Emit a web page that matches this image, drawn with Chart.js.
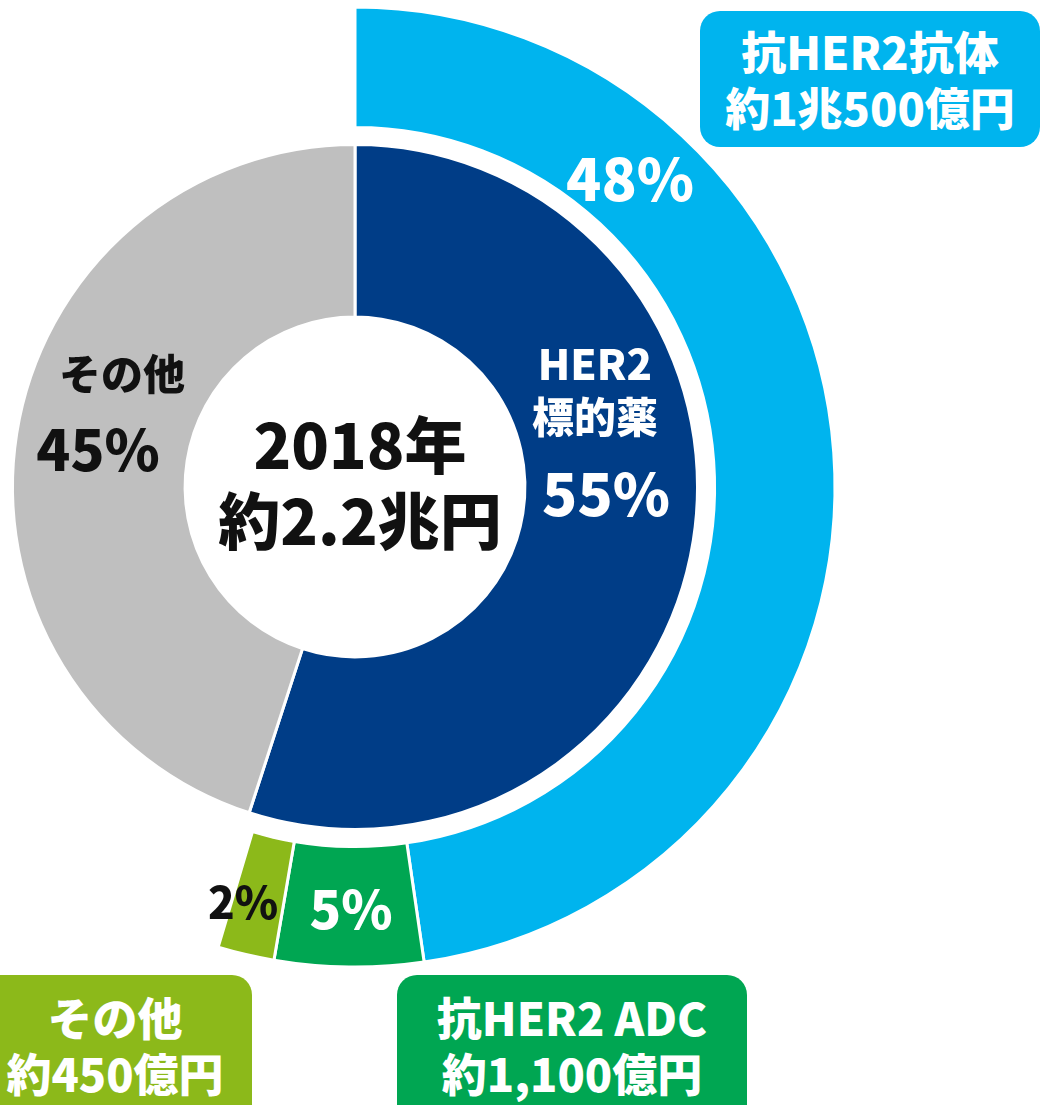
<!DOCTYPE html>
<html lang="ja">
<head>
<meta charset="utf-8">
<script src="https://cdn.jsdelivr.net/npm/chart.js@4.4.1/dist/chart.umd.min.js"></script>
<style>
  html, body { margin: 0; padding: 0; background: #fff; overflow: hidden; }
  #wrap { position: relative; width: 1042px; height: 1105px; overflow: hidden; }
  #chart { position: absolute; left: 0; top: 0; }
  .lbl {
    position: absolute; transform: translate(-50%, -50%);
    font-family: "Noto Sans CJK JP", "Noto Sans", sans-serif; font-weight: 900;
    white-space: nowrap; text-align: center; line-height: 1.2;
  }
  .box {
    position: absolute; border-radius: 20px; color: #fff;
    font-family: "Noto Sans CJK JP", "Noto Sans", sans-serif; font-weight: 900;
    font-size: 45px; line-height: 56px; text-align: center; white-space: nowrap;
    display: flex; flex-direction: column; justify-content: center;
  }
</style>
</head>
<body>
<div id="wrap">
  <canvas id="chart" width="1042" height="1105"></canvas>

  <div class="box" style="left:700px; top:11px; width:340px; height:136px; background:#00B4EE;">
    <span>抗HER2抗体</span><span>約1兆500億円</span>
  </div>
  <div class="box" style="left:397px; top:975px; width:350px; height:150px; background:#00A652; padding-bottom:10px; box-sizing:border-box;">
    <span>抗HER2 ADC</span><span>約1,100億円</span>
  </div>
  <div class="box" style="left:-22px; top:975px; width:274px; height:150px; background:#8CB91A; padding-bottom:10px; box-sizing:border-box;">
    <span>その他</span><span>約450億円</span>
  </div>

  <div class="lbl" style="left:630px; top:177px; font-size:58px; color:#fff;">48%</div>
  <div class="lbl" style="left:595px; top:388px; font-size:42px; line-height:53px; color:#fff;">HER2<br>標的薬</div>
  <div class="lbl" style="left:606px; top:492px; font-size:58px; color:#fff;">55%</div>
  <div class="lbl" style="left:122px; top:372px; font-size:42px; color:#111;">その他</div>
  <div class="lbl" style="left:98px; top:447px; font-size:56px; color:#111;">45%</div>
  <div class="lbl" style="left:360px; top:480px; font-size:62px; line-height:76px; color:#111;">2018年<br>約2.2兆円</div>
  <div class="lbl" style="left:243px; top:900px; font-size:44px; color:#111;">2%</div>
  <div class="lbl" style="left:351px; top:907px; font-size:52px; color:#fff;">5%</div>
</div>
<script>
// 外側: HER2標的薬の内訳 (残りは空白)
const outerLabels = ['抗HER2抗体', '抗HER2 ADC', 'その他(HER2)', ''];
const outerValues = [47.7, 5.0, 1.9, 45.4];
const outerColors = ['#00B4EE', '#00A652', '#8CB91A', 'rgba(0,0,0,0)'];

// 内側: 市場全体
const innerLabels = ['HER2標的薬', 'その他'];
const innerValues = [55, 45];
const innerColors = ['#003D87', '#BFBFBF'];

const ctx = document.getElementById('chart').getContext('2d');
const chart = new Chart(ctx, {
  type: 'doughnut',
  data: {
    labels: outerLabels,
    datasets: [
      {
        data: outerValues,
        backgroundColor: outerColors,
        borderColor: '#fff',
        borderWidth: [3, 3, 3, 0],
        weight: 120
      },
      {
        // rings gap
        data: [100],
        backgroundColor: 'rgba(0,0,0,0)',
        borderWidth: 0,
        weight: 17
      },
      {
        data: innerValues,
        backgroundColor: innerColors,
        borderColor: '#fff',
        borderWidth: 3,
        weight: 172
      }
    ]
  },
  options: {
    responsive: false,
    animation: false,
    radius: 480,
    cutout: '35.4%',
    layout: { padding: { left: 0, right: 332, top: 0, bottom: 131 } },
    plugins: {
      legend: { display: false },
      tooltip: { enabled: false }
    }
  }
});
</script>
</body>
</html>
